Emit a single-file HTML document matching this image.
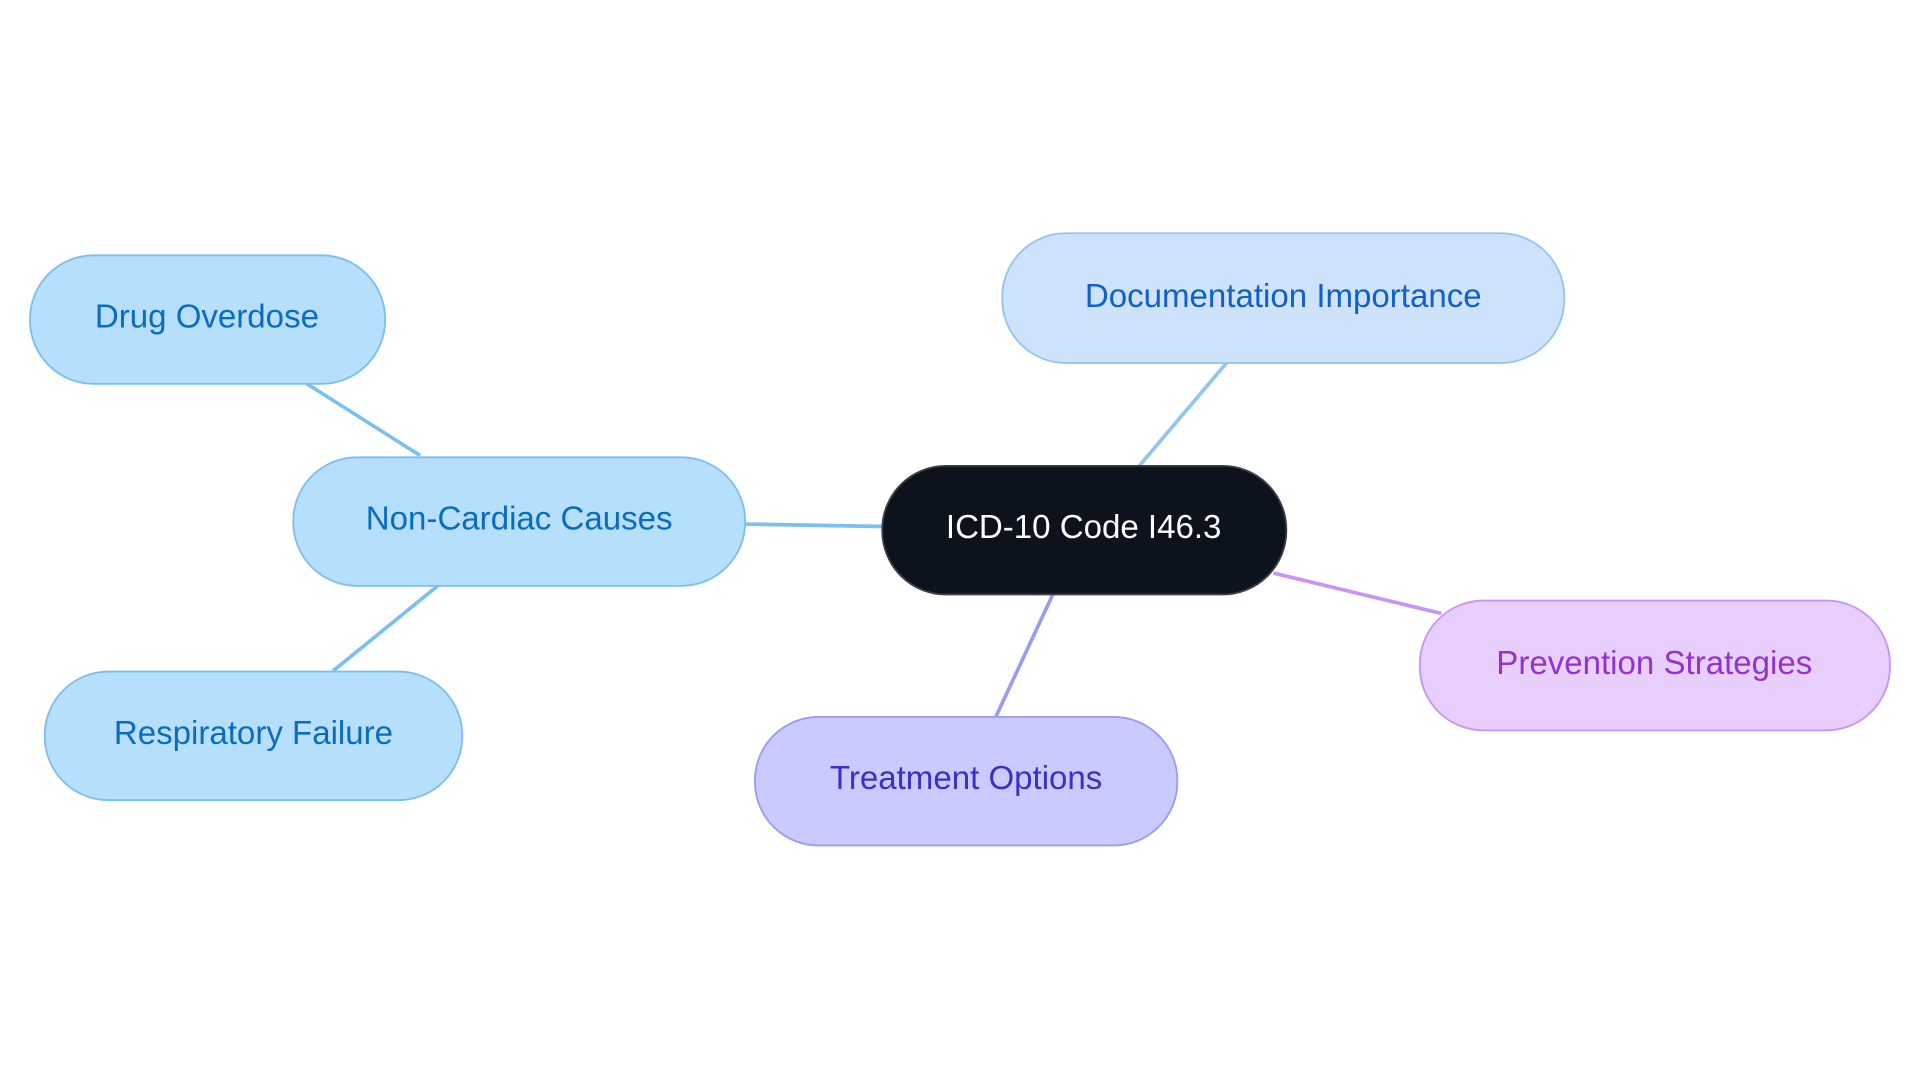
<!DOCTYPE html>
<html><head><meta charset="utf-8"><style>
html,body{margin:0;padding:0;background:#fff;}
svg{display:block;}
text{font-family:"Liberation Sans",sans-serif;font-size:27px;text-anchor:middle;dominant-baseline:central;}
</style></head><body>
<svg width="1920" height="1083" viewBox="0 0 1568 884.5" preserveAspectRatio="none">
<g stroke-width="3" fill="none">
<line x1="250" y1="313" x2="343" y2="372" stroke="#7bbfef"/>
<line x1="358" y1="478" x2="272" y2="548" stroke="#7bbfef"/>
<line x1="608" y1="428" x2="721" y2="430" stroke="#7bbfef"/>
<line x1="930" y1="381" x2="1002" y2="296" stroke="#94c4f0"/>
<line x1="1040" y1="468" x2="1177" y2="501" stroke="#c795ef"/>
<line x1="860" y1="485" x2="813" y2="586" stroke="#9a9cf0"/>
</g>
<g stroke-width="1.5">
<rect x="24.5" y="208.5" width="290" height="105" rx="52" fill="#b5dffd" stroke="#7bbfef"/>
<rect x="239.5" y="373.5" width="369" height="105" rx="52" fill="#b5dffd" stroke="#7bbfef"/>
<rect x="36.5" y="548.5" width="341" height="105" rx="52" fill="#b5dffd" stroke="#7bbfef"/>
<rect x="720.5" y="380.5" width="330" height="105" rx="52" fill="#0c131c" stroke="#3a4048"/>
<rect x="818.5" y="190.5" width="459" height="106" rx="52" fill="#cee3fb" stroke="#94c4f0"/>
<rect x="1159.5" y="490.5" width="384" height="106" rx="52" fill="#e8cefd" stroke="#c795ef"/>
<rect x="616.5" y="585.5" width="345" height="105" rx="52" fill="#c9cbff" stroke="#9a9cf0"/>
</g>
<text x="169" y="259" fill="#0a6cc0">Drug Overdose</text>
<text x="424" y="424" fill="#0a6cc0">Non-Cardiac Causes</text>
<text x="207" y="599" fill="#0a6cc0">Respiratory Failure</text>
<text x="885" y="431" fill="#ffffff">ICD-10 Code I46.3</text>
<text x="1048" y="242" fill="#1060c8">Documentation Importance</text>
<text x="1351" y="542" fill="#9432d0">Prevention Strategies</text>
<text x="789" y="636" fill="#3a2fc8">Treatment Options</text>
</svg>
</body></html>
